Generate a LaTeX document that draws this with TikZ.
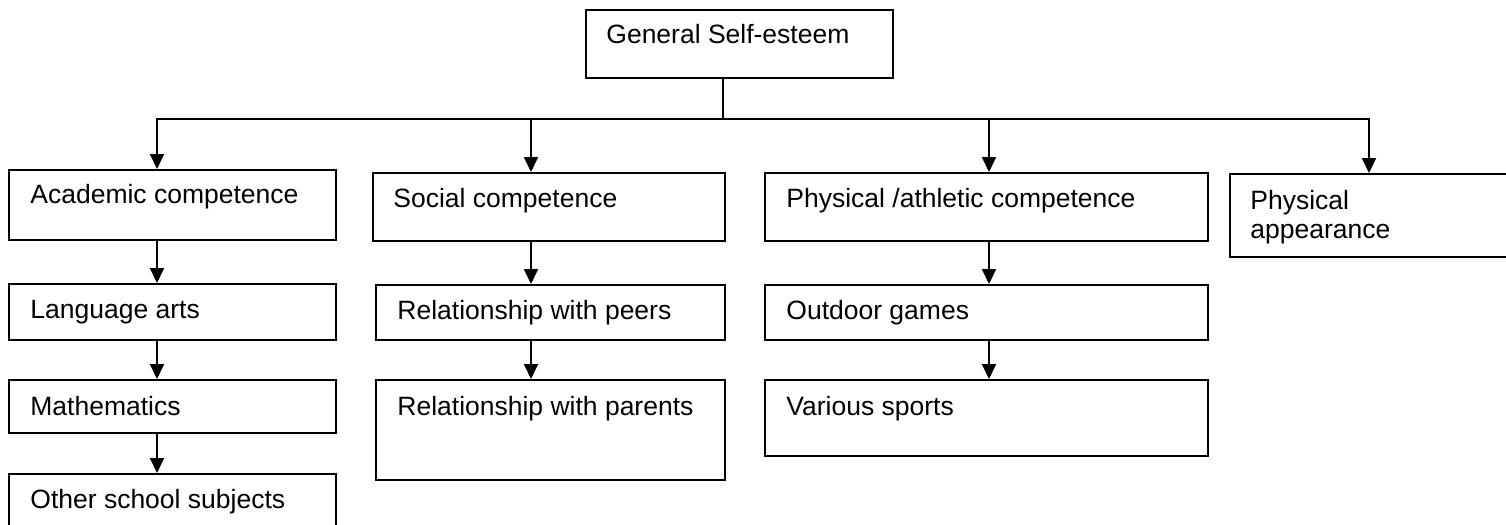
\documentclass[tikz,border=0pt]{standalone}
\usepackage{fontspec}
\setmainfont{Liberation Sans}
\usetikzlibrary{arrows.meta,calc}
\begin{document}
\begin{tikzpicture}[x=0.5pt,y=-0.5pt,
  box/.style={draw,line width=1pt,inner sep=0,anchor=north west},
  txt/.style={inner sep=0,anchor=base west,font=\fontsize{13.25}{14.5}\selectfont},
  arr/.style={line width=1pt,-{Triangle[length=7.5pt,width=7pt]}},
  conn/.style={line width=1pt,line cap=rect}]
\clip (0,0) rectangle (1506,525);
% boxes
\node[box,minimum width=153.5pt,minimum height=34pt] (gse) at (585,9) {};
\node[box,minimum width=163.5pt,minimum height=35pt] (ac) at (8,169) {};
\node[box,minimum width=163.5pt,minimum height=28pt] (la) at (8,283) {};
\node[box,minimum width=163.5pt,minimum height=26.5pt] (ma) at (8,379) {};
\node[box,minimum width=163.5pt,minimum height=33.5pt] (os) at (8,473) {};
\node[box,minimum width=176pt,minimum height=34pt] (so) at (372,172) {};
\node[box,minimum width=174.5pt,minimum height=27.5pt] (rp) at (375,284) {};
\node[box,minimum width=174.5pt,minimum height=50pt] (rq) at (375,379) {};
\node[box,minimum width=221.5pt,minimum height=34pt] (ph) at (764,172) {};
\node[box,minimum width=221.5pt,minimum height=27.5pt] (og) at (764,284) {};
\node[box,minimum width=221.5pt,minimum height=38pt] (vs) at (764,379) {};
\node[box,minimum width=145.5pt,minimum height=41.5pt] (pa) at (1229,173) {};
% texts
\node[txt] (tgse) at ($(gse.north west)+(21,34)$) {General Self-esteem};
\node[txt] (tac) at ($(ac.north west)+(22,34)$) {Academic competence};
\node[txt] (tla) at ($(la.north west)+(22,35)$) {Language arts};
\node[txt] (tma) at ($(ma.north west)+(22,36)$) {Mathematics};
\node[txt] (tos) at ($(os.north west)+(22,35)$) {Other school subjects};
\node[txt] (tso) at ($(so.north west)+(21,35)$) {Social competence};
\node[txt] (trp) at ($(rp.north west)+(22,35)$) {Relationship with peers};
\node[txt] (trq) at ($(rq.north west)+(22,36)$) {Relationship with parents};
\node[txt] (tph) at ($(ph.north west)+(22,35)$) {Physical /athletic competence};
\node[txt] (tog) at ($(og.north west)+(22,35)$) {Outdoor games};
\node[txt] (tvs) at ($(vs.north west)+(22,36)$) {Various sports};
\node[txt] (tpa) at ($(pa.north west)+(21,36)$) {\renewcommand\arraystretch{1}\begin{tabular}[t]{@{}l@{}}Physical\\appearance\end{tabular}};
% connectors
\coordinate (cg) at (723,119);
\coordinate (ca) at (157,119);
\coordinate (cs) at (531,119);
\coordinate (cp) at (989,119);
\coordinate (cq) at (1369,119);
\draw[conn] (cg |- gse.south) -- (cg);
\draw[conn] (ca) -- (cq);
\draw[arr] (ca) -- (ca |- ac.north);
\draw[arr] (cs) -- (cs |- so.north);
\draw[arr] (cp) -- (cp |- ph.north);
\draw[arr] (cq) -- (cq |- pa.north);
\draw[arr] (ca |- ac.south) -- (ca |- la.north);
\draw[arr] (ca |- la.south) -- (ca |- ma.north);
\draw[arr] (ca |- ma.south) -- (ca |- os.north);
\draw[arr] (cs |- so.south) -- (cs |- rp.north);
\draw[arr] (cs |- rp.south) -- (cs |- rq.north);
\draw[arr] (cp |- ph.south) -- (cp |- og.north);
\draw[arr] (cp |- og.south) -- (cp |- vs.north);
\end{tikzpicture}
\end{document}
